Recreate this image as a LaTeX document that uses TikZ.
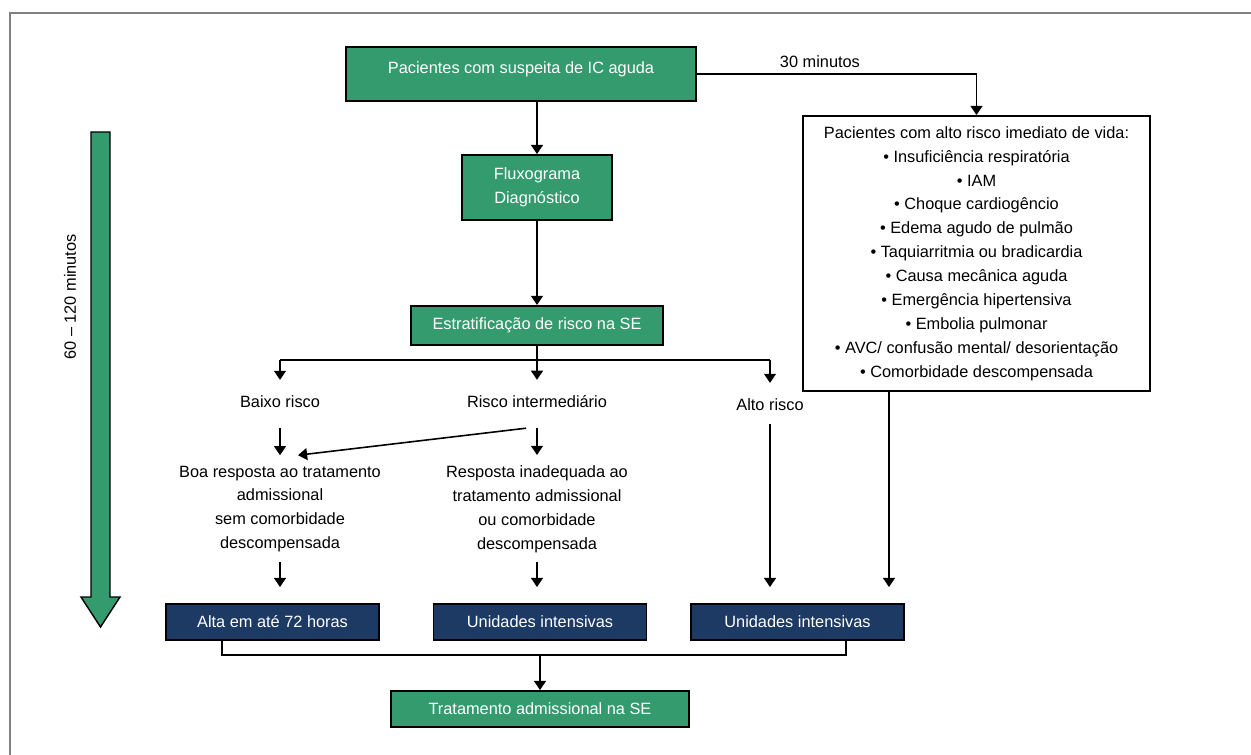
\documentclass[tikz,border=0pt]{standalone}
\usepackage{fontspec}
\setmainfont{Liberation Sans}
\usetikzlibrary{arrows.meta,positioning,calc}

\definecolor{segreen}{RGB}{51,155,110}
\definecolor{senavy}{RGB}{28,58,99}

\begin{document}
\begin{tikzpicture}[
    font=\fontsize{9.3}{13.6}\selectfont,
    greenbox/.style={rectangle, draw=black, fill=segreen, line width=1.1pt, text=white, align=center},
    navybox/.style={rectangle, draw=black, fill=senavy, line width=1.1pt, text=white, minimum width=4.26cm, minimum height=0.72cm},
    listbox/.style={rectangle, draw=black, line width=1.1pt, align=center, minimum width=6.94cm, minimum height=5.5cm},
    plain/.style={align=center, inner sep=1pt},
    link/.style={line width=0.9pt},
    arrow/.style={link, -{Triangle[width=6.8pt,length=5.2pt]}}
]
\useasboundingbox (0,0) rectangle (25.02,-15.1);

% Frame
\draw [gray, line width=0.8pt] (25.02,-0.26) -- (0.2,-0.26) -- (0.2,-15.1);

% Nodes
\node [greenbox, minimum width=7cm, text height=0.34cm, text depth=0.34cm, inner ysep=0.2cm] (suspeita) at (10.42,-1.48) {Pacientes com suspeita de IC aguda};
\node [greenbox, minimum width=3cm, minimum height=1.3cm] (fluxo) at (10.74,-3.75) {Fluxograma\\Diagnóstico};
\node [greenbox, minimum width=5.04cm, minimum height=0.78cm, below=1.68cm of fluxo] (estrat) {Estratificação de risco na SE};

\node [listbox] (altorisco) at (19.53,-5.07) {Pacientes com alto risco imediato de vida:\\
    • Insuficiência respiratória\\
    • IAM\\
    • Choque cardiogêncio\\
    • Edema agudo de pulmão\\
    • Taquiarritmia ou bradicardia\\
    • Causa mecânica aguda\\
    • Emergência hipertensiva\\
    • Embolia pulmonar\\
    • AVC/ confusão mental/ desorientação\\
    • Comorbidade descompensada};

\coordinate (split) at (10.74,-7.2);
\node [plain] (baixo) at (5.6,-8.04) {Baixo risco};
\node [plain] (inter) at (10.74,-8.04) {Risco intermediário};
\node [plain] (alto) at (15.4,-8.1) {Alto risco};

\node [plain] (boa) at (5.6,-10.18) {Boa resposta ao tratamento\\admissional\\sem comorbidade\\descompensada};
\node [plain] (inadeq) at (10.74,-10.18) {Resposta inadequada ao\\tratamento admissional\\ou comorbidade\\descompensada};

\node [navybox] (alta) at (5.45,-12.44) {Alta em até 72 horas};
\node [navybox] (uti) at (10.8,-12.44) {Unidades intensivas};
\node [navybox] (utialto) at (15.95,-12.44) {Unidades intensivas};
\coordinate (merge) at (10.8,-13.1);
\node [greenbox, minimum width=5.96cm, minimum height=0.72cm] (tratamento) at (10.8,-14.18) {Tratamento admissional na SE};

% Time arrow
\draw [fill=segreen, line width=0.8pt] (1.82,-2.64) -- (2.2,-2.64) -- (2.2,-11.94) -- (2.4,-11.94)
    -- (2.01,-12.54) -- (1.62,-11.94) -- (1.82,-11.94) -- cycle;
\node [rotate=90] (tempo) at (1.4,-5.94) {60 – 120 minutos};

% Connections
\draw [arrow] (suspeita.south -| fluxo) -- (fluxo.north);
\draw [arrow] (fluxo) -- (estrat);
\draw [arrow] (suspeita.east) -| node[pos=0.22, above] {30 minutos} (altorisco.north);

\draw [link] (estrat.south) -- (split);
\draw [link] (split -| baixo) -- (split -| alto);
\foreach \n in {baixo, inter, alto}
    \draw [arrow] (split -| \n) -- ([yshift=0.28cm]\n.north);

\draw [arrow] ([yshift=-0.36cm]baixo.south) -- ([yshift=0.17cm]boa.north);
\draw [arrow] ([yshift=-0.36cm]inter.south) -- ([yshift=0.17cm]inadeq.north);
\draw [arrow] ([xshift=-0.22cm,yshift=-0.36cm]inter.south) -- ([xshift=0.36cm,yshift=0.17cm]boa.north);

\draw [arrow] ([yshift=-0.15cm]boa.south) -- ($(boa.south |- alta.north)+(0,0.32)$);
\draw [arrow] ([yshift=-0.15cm]inadeq.south) -- ($(inadeq.south |- uti.north)+(0,0.32)$);
\draw [arrow] ([yshift=-0.22cm]alto.south) -- ($(alto.south |- utialto.north)+(0,0.32)$);
\draw [arrow] ([xshift=-1.75cm]altorisco.south) -- ($(utialto.north)+(1.83,0.32)$);

% Merge to treatment
\draw [link] ([xshift=-1.01cm]alta.south) |- (merge) -| ([xshift=0.97cm]utialto.south);
\draw [arrow] (merge) -- (tratamento.north);

\end{tikzpicture}
\end{document}
